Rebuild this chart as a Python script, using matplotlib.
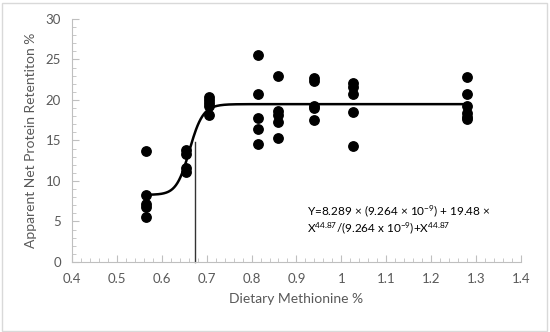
import numpy as np
import matplotlib
matplotlib.use("Agg")
import matplotlib.pyplot as plt
from matplotlib.patches import Rectangle
from matplotlib.ticker import MultipleLocator, FuncFormatter

plt.rcParams['font.family'] = ['Lato', 'DejaVu Sans']
plt.rcParams['mathtext.fontset'] = 'custom'
plt.rcParams['mathtext.rm'] = 'Lato'
plt.rcParams['mathtext.it'] = 'Lato:italic'

# observed values, grouped by dietary methionine level
methionine = [0.565, 0.654, 0.705, 0.814, 0.859, 0.939, 1.025, 1.28]
retention = [
    [13.7, 8.3, 7.2, 6.8, 5.6],
    [13.8, 13.3, 11.6, 11.1],
    [20.4, 20.0, 19.6, 19.3, 18.1],
    [25.5, 20.7, 17.8, 16.4, 14.6],
    [23.0, 18.6, 18.2, 17.3, 15.3],
    [22.75, 22.3, 19.2, 19.0, 17.5],
    [22.1, 21.6, 20.7, 18.5, 14.3],
    [22.8, 20.7, 19.3, 18.4, 17.9, 17.6],
]

# fitted model parameters (as printed on the chart)
y_min = 8.289
y_max = 19.48
k_fit = 9.264e-9
n_fit = 44.87
fit_range = (0.565, 1.28)
break_x = 0.674
break_y = 14.8

xs = np.concatenate([[m] * len(r) for m, r in zip(methionine, retention)])
ys = np.concatenate(retention)

fig = plt.figure(figsize=(5.5, 3.32), dpi=100)
ax = fig.add_axes([0.131, 0.211, 0.816, 0.732])

# light frame round the whole chart area
fig.patches.append(Rectangle((0.004, 0.003), 0.99, 0.988, transform=fig.transFigure,
                             fill=False, edgecolor='#d9d9d9', linewidth=1))

xf = np.linspace(fit_range[0], fit_range[1], 400)
yf = (y_min * k_fit + y_max * xf ** n_fit) / (k_fit + xf ** n_fit)
ax.plot(xf, yf, color='black', lw=1.8, zorder=3)
ax.plot([break_x, break_x], [0, break_y], color='#333333', lw=1, zorder=2, clip_on=False)
ax.scatter(xs, ys, s=46, color='black', zorder=4)

ax.set_xlim(0.4, 1.4)
ax.set_ylim(0, 30)
ax.xaxis.set_major_locator(MultipleLocator(0.1))
ax.xaxis.set_minor_locator(MultipleLocator(0.02))
ax.yaxis.set_major_locator(MultipleLocator(5))
ax.yaxis.set_minor_locator(MultipleLocator(1))
ax.xaxis.set_major_formatter(FuncFormatter(lambda v, p: f"{round(v, 1):g}"))

for s in ['top', 'right']:
    ax.spines[s].set_visible(False)
for s in ['left', 'bottom']:
    ax.spines[s].set_color('#bfbfbf')
ax.tick_params(which='both', direction='in', color='#bfbfbf', labelcolor='#595959',
               labelsize=9.5)
ax.tick_params(which='major', length=5)
ax.tick_params(which='minor', length=3)
ax.tick_params(axis='x', pad=8)
ax.tick_params(axis='y', pad=8)

ax.set_xlabel('Dietary Methionine %', fontsize=10, color='#595959', labelpad=6)
ax.set_ylabel('Apparent Net Protein Retentiton %', fontsize=10, color='#595959', labelpad=6)

ax.text(0.523, 0.21, r"Y=8.289 × (9.264 × 10$^{-9}$) + 19.48 ×", transform=ax.transAxes,
        fontsize=8.5, color='black', va='center')
ax.text(0.523, 0.14, r"X$^{44.87}$/(9.264 x 10$^{-9}$)+X$^{44.87}$", transform=ax.transAxes,
        fontsize=8.5, color='black', va='center')

fig.savefig('out.png', dpi=100)
